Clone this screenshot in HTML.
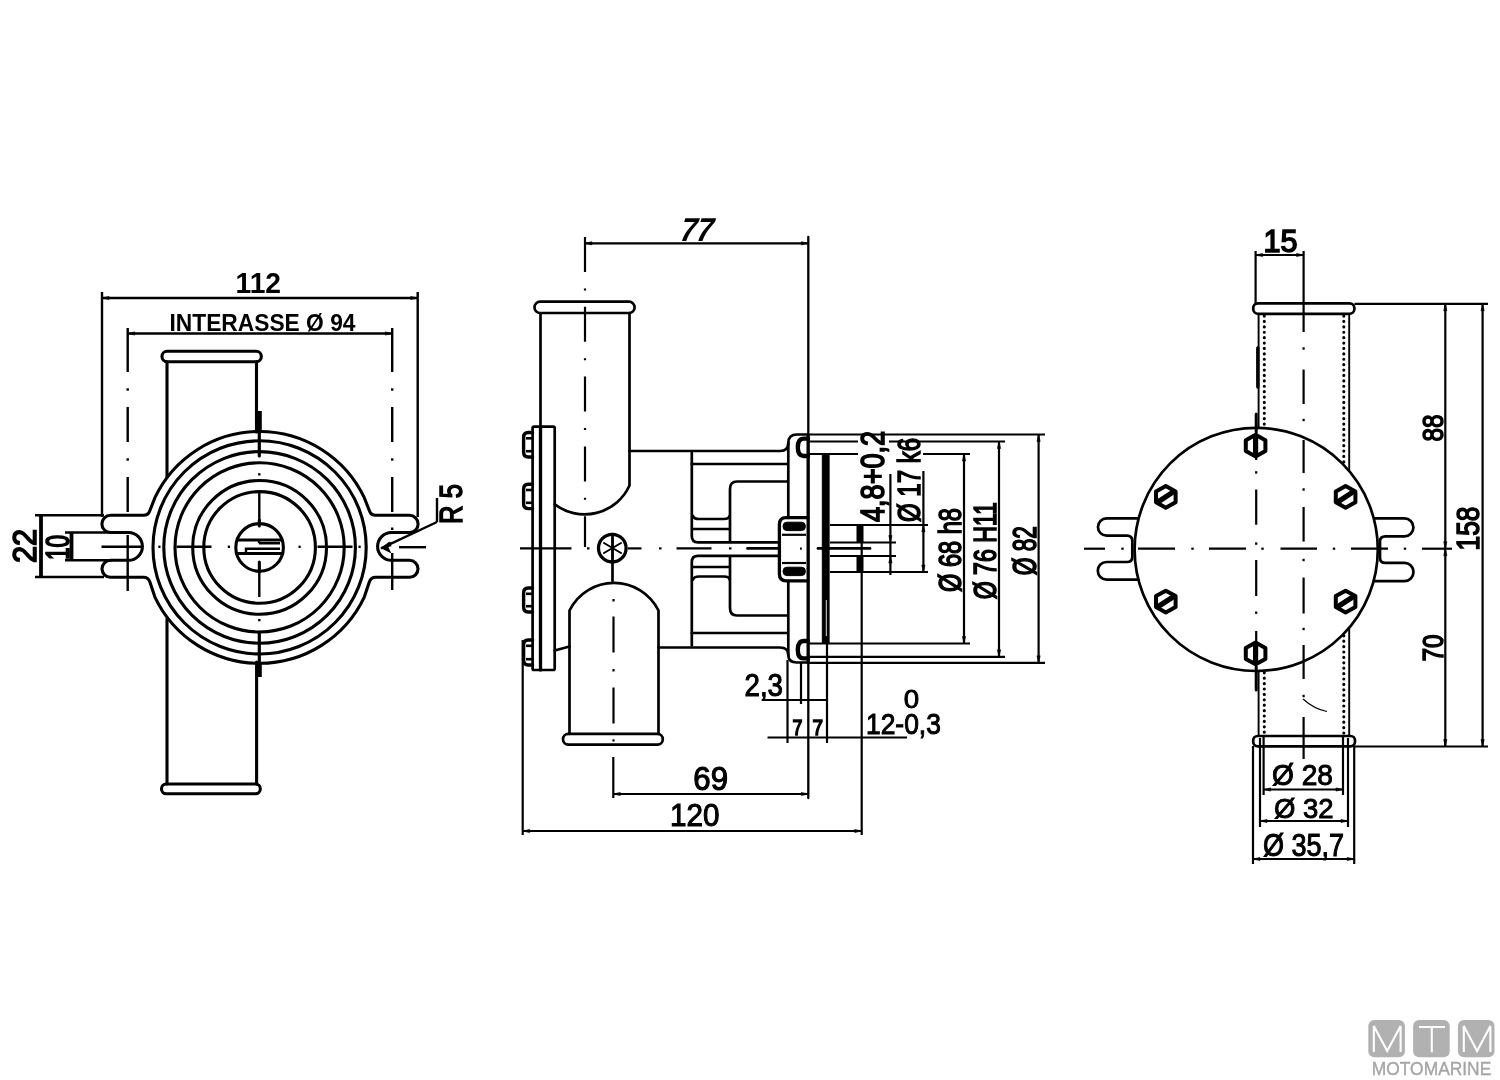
<!DOCTYPE html>
<html><head><meta charset="utf-8"><title>Pump dimensions</title>
<style>
html,body{margin:0;padding:0;background:#fff;}
body{width:1500px;height:1080px;overflow:hidden;font-family:"Liberation Sans",sans-serif;}
svg{display:block;position:absolute;left:0;top:0;will-change:transform;}
svg text{font-family:"Liberation Sans",sans-serif;}
.k{fill:none;stroke:#000;stroke-width:2.7;stroke-linecap:round;stroke-linejoin:round;}
.m{fill:none;stroke:#000;stroke-width:2.2;stroke-linecap:butt;}
.t{fill:none;stroke:#000;stroke-width:1.4;stroke-linecap:butt;}
.h{fill:none;stroke:#000;stroke-width:3.4;stroke-linecap:round;stroke-linejoin:round;}
.f{fill:#000;stroke:#000;stroke-width:1;}
#left-view .k{stroke-width:3.1;}
#left-view .m{stroke-width:2.4;}
#right-view .k{stroke-width:2.7;}
.cl{fill:none;stroke:#000;stroke-width:2.2;stroke-dasharray:35 16.4 2 16.4;}
</style></head><body>
<svg width="1500" height="1080" viewBox="0 0 1500 1080">
<rect x="0" y="0" width="1500" height="1080" fill="#fff"/>
<g id="left-view">
<circle class="k" cx="259.6" cy="547.4" r="106.6"/>
<circle class="k" cx="259.6" cy="547.4" r="95.8"/>
<circle class="k" cx="259.6" cy="547.4" r="84.6"/>
<circle class="k" cx="259.6" cy="547.4" r="66.9"/>
<circle class="k" cx="259.6" cy="547.4" r="55.8"/>
<circle class="k" cx="259.6" cy="547.4" r="23.8"/>
<path class="k" d="M364.3,497.7 A115.9,115.9 0 0 0 154.9,497.7 L149.9,510.5 Q148.3,515.3 143.6,515.3 L110.5,515.3 A8.6,8.6 0 0 0 110.5,532.5 L128.5,532.5 A13.9,13.9 0 0 1 128.5,560.3 L110.5,560.3 A8.5,8.5 0 0 0 110.5,577.3 L143.6,577.3 Q148.3,577.3 149.9,582.1 L154.9,597.1 A115.9,115.9 0 0 0 364.3,597.1 L369.3,582.1 Q370.9,577.3 375.6,577.3 L409.5,577.3 A8.5,8.5 0 0 0 409.5,560.3 L391.5,560.3 A13.9,13.9 0 0 1 391.5,532.5 L409.5,532.5 A8.6,8.6 0 0 0 409.5,515.3 L375.6,515.3 Q370.9,515.3 369.3,510.5 Z" />
<rect class="k" x="162" y="351.3" width="99.3" height="10.4" rx="5" />
<line class="k" x1="167" y1="361.7" x2="167" y2="477" />
<line class="k" x1="256.5" y1="361.7" x2="256.5" y2="432" />
<rect class="k" x="161.5" y="784" width="98.8" height="9.8" rx="4.8" />
<line class="k" x1="167" y1="619" x2="167" y2="784" />
<line class="k" x1="256.6" y1="662" x2="256.6" y2="784" />
<line class="k" x1="259.3" y1="411" x2="259.3" y2="431" style="stroke-width:5;stroke-linecap:butt"/>
<line class="k" x1="259.3" y1="430" x2="259.3" y2="456" style="stroke-width:3.2"/>
<line class="k" x1="259.3" y1="663" x2="259.3" y2="677" style="stroke-width:5;stroke-linecap:butt"/>
<line class="k" x1="259.3" y1="632" x2="259.3" y2="664" style="stroke-width:3.2"/>
<line class="m" x1="259.3" y1="492" x2="259.3" y2="523" />
<line class="k" x1="259.3" y1="520" x2="259.3" y2="526" style="stroke-width:3"/>
<line class="m" x1="259.3" y1="562" x2="259.3" y2="597" />
<line class="k" x1="259.3" y1="562" x2="259.3" y2="572" style="stroke-width:3"/>
<line class="m" x1="259.3" y1="473.2" x2="259.3" y2="475.5" />
<line class="m" x1="259.3" y1="619" x2="259.3" y2="621.3" />
<line class="k" x1="237.5" y1="540" x2="281.5" y2="540" />
<line class="k" x1="237" y1="553.5" x2="282" y2="553.5" />
<path class="m" d="M280,543.3 L259,543.3 M280,548.8 L246,548.8 L246,552.5 M259,540 L259,543.3" />
<line class="m" x1="176.5" y1="546.8" x2="211.5" y2="546.8" />
<line class="m" x1="317.5" y1="546.8" x2="352.5" y2="546.8" />
<line class="m" x1="158.3" y1="546.8" x2="160.5" y2="546.8" />
<line class="m" x1="227.8" y1="546.8" x2="230.0" y2="546.8" />
<line class="m" x1="298.5" y1="546.8" x2="300.7" y2="546.8" />
<line class="m" x1="358.5" y1="546.8" x2="360.7" y2="546.8" />
<line class="m" x1="101.5" y1="546.8" x2="141" y2="546.8" />
<line class="m" x1="399" y1="547.2" x2="426" y2="547.2" />
<line class="m" x1="102" y1="292" x2="102" y2="517" />
<line class="m" x1="417.7" y1="292" x2="417.7" y2="517" />
<line class="m" x1="102" y1="298" x2="417.7" y2="298" />
<polygon points="102,298 109,296.4 109,299.6" fill="#000" stroke="#000" stroke-width="0.6"/>
<polygon points="417.7,298 410.7,296.4 410.7,299.6" fill="#000" stroke="#000" stroke-width="0.6"/>
<text transform="translate(235.50,293.00) scale(0.2826,0.3000)" font-size="100" fill="#000" style="font-weight:bold;">112</text>
<line class="m" x1="127.8" y1="333.5" x2="392.3" y2="333.5" />
<polygon points="127.8,333.5 134.8,331.9 134.8,335.1" fill="#000" stroke="#000" stroke-width="0.6"/>
<polygon points="392.3,333.5 385.3,331.9 385.3,335.1" fill="#000" stroke="#000" stroke-width="0.6"/>
<text transform="translate(169.50,330.59) scale(0.2277,0.2416)" font-size="100" fill="#000" style="font-weight:bold;">INTERASSE Ø 94</text>
<line class="m" x1="127.7" y1="328" x2="127.7" y2="372" />
<line class="m" x1="127.7" y1="388.3" x2="127.7" y2="390.7" />
<line class="m" x1="127.7" y1="407" x2="127.7" y2="442" />
<line class="m" x1="127.7" y1="458.3" x2="127.7" y2="460.7" />
<line class="m" x1="127.7" y1="477" x2="127.7" y2="512" />
<line class="m" x1="392.2" y1="328" x2="392.2" y2="372" />
<line class="m" x1="392.2" y1="388.3" x2="392.2" y2="390.7" />
<line class="m" x1="392.2" y1="407" x2="392.2" y2="442" />
<line class="m" x1="392.2" y1="458.3" x2="392.2" y2="460.7" />
<line class="m" x1="392.2" y1="477" x2="392.2" y2="512" />
<line class="m" x1="127.7" y1="535" x2="127.7" y2="591" />
<line class="m" x1="392.2" y1="553" x2="392.2" y2="590" />
<line class="m" x1="392.2" y1="527.5" x2="392.2" y2="530" />
<line class="m" x1="35" y1="515.3" x2="104" y2="515.3" />
<line class="m" x1="35" y1="577.0" x2="104" y2="577.0" />
<line class="k" x1="41" y1="515.3" x2="41" y2="577" style="stroke-width:3.8;stroke-linecap:butt"/>
<line class="m" x1="65" y1="532.5" x2="112" y2="532.5" />
<line class="m" x1="65" y1="560.3" x2="112" y2="560.3" />
<line class="k" x1="71.5" y1="532.5" x2="71.5" y2="560.3" style="stroke-width:3.8;stroke-linecap:butt"/>
<text transform="translate(36.00,563.00) rotate(-90) scale(0.3063,0.3286)" font-size="100" fill="#000" stroke="#000" stroke-width="5" style="">22</text>
<text transform="translate(69.47,560.00) rotate(-90) scale(0.2252,0.3282)" font-size="100" fill="#000" stroke="#000" stroke-width="5" style="">10</text>
<line class="m" x1="381" y1="548.3" x2="437" y2="522" />
<line class="m" x1="437" y1="522" x2="437" y2="498" />
<polygon points="380.5,548.5 391.6,546.2 389.4,541.5" fill="#000"/>
<polygon points="380.5,548 391.5,541.5 388.5,547.5 391.5,553.5" fill="#000"/>
<text transform="translate(461.69,524.00) rotate(-90) scale(0.2564,0.3143)" font-size="100" fill="#000" stroke="#000" stroke-width="5" style="">R 5</text>
</g>
<g id="mid-view">
<rect class="k" x="532.6" y="426.6" width="22.1" height="243.4" rx="1.5" />
<line class="k" x1="540.5" y1="314" x2="540.5" y2="427" />
<line class="k" x1="540.5" y1="427" x2="540.5" y2="670" style="stroke-width:3.3"/>
<path class="h" d="M532.6,432.5 L528.2,432.5 Q523.6,432.5 523.6,437.5 L523.6,452 Q523.6,457 528.2,457 L532.6,457" style="stroke-width:3.4"/>
<line class="k" x1="526" y1="438.3" x2="532.6" y2="438.3" style="stroke-width:2.6;stroke-linecap:butt"/>
<line class="k" x1="526" y1="451.2" x2="532.6" y2="451.2" style="stroke-width:2.6;stroke-linecap:butt"/>
<path class="h" d="M532.6,484.2 L528.2,484.2 Q523.6,484.2 523.6,489.2 L523.6,503.6 Q523.6,508.6 528.2,508.6 L532.6,508.6" style="stroke-width:3.4"/>
<line class="k" x1="526" y1="490.0" x2="532.6" y2="490.0" style="stroke-width:2.6;stroke-linecap:butt"/>
<line class="k" x1="526" y1="502.8" x2="532.6" y2="502.8" style="stroke-width:2.6;stroke-linecap:butt"/>
<path class="h" d="M532.6,588 L528.2,588 Q523.6,588 523.6,593 L523.6,607 Q523.6,612 528.2,612 L532.6,612" style="stroke-width:3.4"/>
<line class="k" x1="526" y1="593.8" x2="532.6" y2="593.8" style="stroke-width:2.6;stroke-linecap:butt"/>
<line class="k" x1="526" y1="606.2" x2="532.6" y2="606.2" style="stroke-width:2.6;stroke-linecap:butt"/>
<path class="h" d="M532.6,640 L528.2,640 Q523.6,640 523.6,645 L523.6,660 Q523.6,665 528.2,665 L532.6,665" style="stroke-width:3.4"/>
<line class="k" x1="526" y1="645.8" x2="532.6" y2="645.8" style="stroke-width:2.6;stroke-linecap:butt"/>
<line class="k" x1="526" y1="659.2" x2="532.6" y2="659.2" style="stroke-width:2.6;stroke-linecap:butt"/>
<rect class="k" x="534.5" y="301.7" width="100.1" height="11.3" rx="5.6" />
<path class="k" d="M629.5,313 L629.5,485.5 A49.3,49.3 0 0 1 554.7,504.3" />
<rect class="k" x="563" y="733.9" width="99.8" height="10.7" rx="5.3" />
<path class="k" d="M569.5,733.9 L569.5,610.5 A49.6,49.6 0 0 1 658.5,610.5 L658.5,733.9" />
<path class="k" d="M629.5,451 L780,451 Q788.3,451 788.3,443 Q788.3,434.5 797,434.5 L808,434.5" />
<path class="k" d="M658.5,647.5 L780,647.5 Q788.3,647.5 788.3,655 Q788.3,662.5 797,662.5 L808,662.5" />
<path class="k" d="M554.7,650.5 L569.5,646.5" />
<line class="k" x1="788.3" y1="443" x2="788.3" y2="518" />
<line class="k" x1="788.3" y1="581" x2="788.3" y2="655" />
<path class="h" d="M808,438.6 L803.5,438.6 Q797.8,438.6 797.8,447.3 Q797.8,456 803.5,456 L808,456" style="stroke-width:4.4"/>
<path class="h" d="M808,641 L803.5,641 Q797.8,641 797.8,649.7 Q797.8,658.4 803.5,658.4 L808,658.4" style="stroke-width:4.4"/>
<path class="k" d="M691.8,453 L691.8,536 Q691.8,542.3 698,542.3 L779,542.3" />
<path class="k" d="M691.8,645.5 L691.8,562 Q691.8,555.9 698,555.9 L779,555.9" />
<line class="k" x1="691.8" y1="464" x2="787.5" y2="464" />
<line class="k" x1="691.8" y1="633" x2="787.5" y2="633" />
<path class="k" d="M787.5,481.5 L737,481.5 Q730,481.5 730,489 L730,541" />
<path class="k" d="M787.5,615.5 L737,615.5 Q730,615.5 730,608 L730,557" />
<path class="k" d="M693,516 Q694,519 699,519 L724,519 Q729,519 729.5,516" />
<line class="k" x1="693" y1="529" x2="729.5" y2="529" />
<path class="k" d="M693,579.5 Q694,576.5 699,576.5 L724,576.5 Q729,576.5 729.5,579.5" />
<line class="k" x1="693" y1="567" x2="729.5" y2="567" />
<path class="k" d="M808,517.6 L786,517.6 Q779.4,517.6 779.4,524.5 L779.4,574 Q779.4,580.8 786,580.8 L808,580.8" style="stroke-width:3.3"/>
<rect class="f" x="783" y="522.2" width="22.4" height="8.4" rx="4" />
<rect class="f" x="783" y="567.2" width="22.4" height="8.4" rx="4" />
<line class="m" x1="782" y1="534.8" x2="806" y2="534.8" style="stroke-width:2.2"/>
<line class="m" x1="782" y1="563.0" x2="806" y2="563.0" style="stroke-width:2.2"/>
<line class="m" x1="800.0" y1="548.6" x2="801.8" y2="548.6" />
<line class="k" x1="808.3" y1="237" x2="808.3" y2="798" style="stroke-width:2.3"/>
<rect class="f" x="822.3" y="454" width="6.8" height="189" rx="0" />
<line class="k" x1="808.1" y1="434.5" x2="808.1" y2="662.8" style="stroke-width:3.2"/>
<line class="m" x1="826.3" y1="600" x2="826.3" y2="636" style="stroke:#ddd;stroke-width:1"/>
<line class="m" x1="830" y1="525" x2="928" y2="525" />
<line class="m" x1="830" y1="572" x2="928" y2="572" />
<line class="m" x1="830" y1="542.5" x2="896" y2="542.5" />
<line class="m" x1="830" y1="556" x2="896" y2="556" />
<rect class="f" x="857" y="525" width="6" height="17.5" rx="0" />
<rect class="f" x="857" y="556" width="6" height="16" rx="0" />
<line class="k" x1="818" y1="548.4" x2="870" y2="548.4" style="stroke-width:2.8"/>
<line class="k" x1="747.5" y1="548.4" x2="777.5" y2="548.4" style="stroke-width:2.8"/>
<line class="m" x1="520" y1="548.4" x2="571.5" y2="548.4" />
<line class="m" x1="587" y1="548.4" x2="589.5" y2="548.4" />
<line class="m" x1="628" y1="548.4" x2="641.5" y2="548.4" />
<line class="m" x1="659" y1="548.4" x2="661.5" y2="548.4" />
<line class="m" x1="676.5" y1="548.4" x2="711.5" y2="548.4" />
<line class="m" x1="729" y1="548.4" x2="731.5" y2="548.4" />
<circle class="k" style="stroke-width:3.3" cx="612.3" cy="548.2" r="13.8"/>
<path class="k" d="M612.5,538 L612.5,558 M604,543 L621,553 M604,553 L621,543" style="stroke-width:2"/>
<line class="k" x1="612.5" y1="534" x2="612.5" y2="581" />
<line class="cl" x1="585" y1="237" x2="585" y2="547" />
<line class="m" x1="613.5" y1="599" x2="613.5" y2="601.5" />
<line class="m" x1="613.5" y1="616.5" x2="613.5" y2="652.5" />
<line class="m" x1="613.5" y1="669" x2="613.5" y2="671.5" />
<line class="m" x1="613.5" y1="687.5" x2="613.5" y2="723.5" />
<line class="m" x1="613.5" y1="739.3" x2="613.5" y2="741.5" />
<line class="m" x1="613.3" y1="757" x2="613.3" y2="798" />
<line class="m" x1="585" y1="243.3" x2="808.3" y2="243.3" />
<polygon points="585,243.3 592,241.70000000000002 592,244.9" fill="#000" stroke="#000" stroke-width="0.6"/>
<polygon points="808.3,243.3 801.3,241.70000000000002 801.3,244.9" fill="#000" stroke="#000" stroke-width="0.6"/>
<text transform="translate(679.50,241.20) scale(0.2905,0.3319) skewX(-9)" font-size="100" fill="#000" style="font-style:italic;font-weight:bold;">77</text>
<line class="m" x1="613.3" y1="794" x2="808.3" y2="794" />
<polygon points="613.3,794 620.3,792.4 620.3,795.6" fill="#000" stroke="#000" stroke-width="0.6"/>
<polygon points="808.3,794 801.3,792.4 801.3,795.6" fill="#000" stroke="#000" stroke-width="0.6"/>
<text transform="translate(693.30,789.68) scale(0.3126,0.3239)" font-size="100" fill="#000" stroke="#000" stroke-width="3.4" style="">69</text>
<line class="m" x1="522.7" y1="640" x2="522.7" y2="835" />
<line class="m" x1="861.7" y1="527" x2="861.7" y2="835" />
<line class="m" x1="522.7" y1="831" x2="861.7" y2="831" />
<polygon points="522.7,831 529.7,829.4 529.7,832.6" fill="#000" stroke="#000" stroke-width="0.6"/>
<polygon points="861.7,831 854.7,829.4 854.7,832.6" fill="#000" stroke="#000" stroke-width="0.6"/>
<text transform="translate(670.00,825.89) scale(0.2964,0.3099)" font-size="100" fill="#000" stroke="#000" stroke-width="3.4" style="">120</text>
<line class="m" x1="787.5" y1="660" x2="787.5" y2="743" />
<line class="m" x1="827" y1="643" x2="827" y2="743" />
<line class="m" x1="801" y1="662" x2="801" y2="704" />
<line class="m" x1="761.7" y1="700" x2="826" y2="700" />
<line class="m" x1="767.5" y1="737.5" x2="907" y2="737.5" />
<text transform="translate(744.50,695.77) scale(0.2770,0.3110)" font-size="100" fill="#000" stroke="#000" stroke-width="3.4" style="">2,3</text>
<text transform="translate(792.50,734.50) scale(0.1786,0.2174)" font-size="100" fill="#000" stroke="#000" stroke-width="7" style="">7</text>
<text transform="translate(812.40,734.50) scale(0.1893,0.2174)" font-size="100" fill="#000" stroke="#000" stroke-width="7" style="">7</text>
<text transform="translate(866.00,733.74) scale(0.2641,0.2963)" font-size="100" fill="#000" stroke="#000" stroke-width="3.4" style="">12-0,3</text>
<text transform="translate(903.80,707.94) scale(0.2768,0.2592)" font-size="100" fill="#000" stroke="#000" stroke-width="3.4" style="">0</text>
<line class="m" x1="808.3" y1="434.5" x2="1045" y2="434.5" />
<line class="m" x1="808.3" y1="662.8" x2="1045" y2="662.8" />
<line class="m" x1="1038.6" y1="434.5" x2="1038.6" y2="662.8" />
<polygon points="1038.6,434.5 1037.0,441.5 1040.1999999999998,441.5" fill="#000" stroke="#000" stroke-width="0.6"/>
<polygon points="1038.6,662.8 1037.0,655.8 1040.1999999999998,655.8" fill="#000" stroke="#000" stroke-width="0.6"/>
<line class="m" x1="808.3" y1="441.5" x2="858" y2="441.5" />
<line class="m" x1="889" y1="441.5" x2="1005" y2="441.5" />
<line class="m" x1="808.3" y1="656.8" x2="1005" y2="656.8" />
<line class="m" x1="999" y1="441.5" x2="999" y2="656.8" />
<polygon points="999,441.5 997.4,448.5 1000.6,448.5" fill="#000" stroke="#000" stroke-width="0.6"/>
<polygon points="999,656.8 997.4,649.8 1000.6,649.8" fill="#000" stroke="#000" stroke-width="0.6"/>
<line class="m" x1="808.3" y1="454" x2="858" y2="454" />
<line class="m" x1="923" y1="454" x2="970" y2="454" />
<line class="m" x1="808.3" y1="643.5" x2="970" y2="643.5" />
<line class="m" x1="964" y1="454" x2="964" y2="643.5" />
<polygon points="964,454 962.4,461 965.6,461" fill="#000" stroke="#000" stroke-width="0.6"/>
<polygon points="964,643.5 962.4,636.5 965.6,636.5" fill="#000" stroke="#000" stroke-width="0.6"/>
<line class="m" x1="923.4" y1="471" x2="923.4" y2="573" />
<polygon points="923.4,525 921.8,532 925.0,532" fill="#000" stroke="#000" stroke-width="0.6"/>
<polygon points="923.4,572 921.8,565 925.0,565" fill="#000" stroke="#000" stroke-width="0.6"/>
<line class="m" x1="890.4" y1="474" x2="890.4" y2="575" />
<polygon points="890.4,542.5 888.8,535.5 892.0,535.5" fill="#000" stroke="#000" stroke-width="0.6"/>
<polygon points="890.4,556 888.8,563 892.0,563" fill="#000" stroke="#000" stroke-width="0.6"/>
<text transform="translate(883.98,522.00) rotate(-90) scale(0.2708,0.3354)" font-size="100" fill="#000" stroke="#000" stroke-width="5" style="">4,8+0,2</text>
<text transform="translate(919.67,522.00) rotate(-90) scale(0.2400,0.3107)" font-size="100" fill="#000" stroke="#000" stroke-width="5" style="">Ø 17 k6</text>
<text transform="translate(960.64,592.00) rotate(-90) scale(0.2360,0.3213)" font-size="100" fill="#000" stroke="#000" stroke-width="5" style="">Ø 68 h8</text>
<text transform="translate(995.54,599.30) rotate(-90) scale(0.2311,0.3213)" font-size="100" fill="#000" stroke="#000" stroke-width="5" style="">Ø 76 H11</text>
<text transform="translate(1036.42,575.30) rotate(-90) scale(0.2272,0.3280)" font-size="100" fill="#000" stroke="#000" stroke-width="5" style="">Ø 82</text>
</g>
<g id="right-view">
<rect class="k" x="1253.2" y="303.4" width="101.2" height="10.4" rx="4.8" />
<rect class="k" x="1253.2" y="736" width="101.8" height="10.3" rx="4.5" />
<line class="m" x1="1258.6" y1="313.5" x2="1258.6" y2="427.82368651747987" style="stroke-width:1.9"/>
<line class="m" x1="1258.6" y1="670.97631348252" x2="1258.6" y2="736" style="stroke-width:1.9"/>
<line class="m" x1="1264.3" y1="316" x2="1264.3" y2="428.0700778867801" style="stroke-dasharray:0.1 5.3;stroke-width:3.1;stroke-linecap:round"/>
<line class="m" x1="1264.3" y1="672.7299221132198" x2="1264.3" y2="736" style="stroke-dasharray:0.1 5.3;stroke-width:3.1;stroke-linecap:round"/>
<line class="m" x1="1343.8" y1="316" x2="1343.8" y2="465.0625824440894" style="stroke-dasharray:0.1 5.3;stroke-width:3.1;stroke-linecap:round"/>
<line class="m" x1="1343.8" y1="635.7374175559106" x2="1343.8" y2="736" style="stroke-dasharray:0.1 5.3;stroke-width:3.1;stroke-linecap:round"/>
<line class="m" x1="1349.2" y1="313.5" x2="1349.2" y2="471.0574189855861" style="stroke-width:1.9"/>
<line class="m" x1="1349.2" y1="627.7425810144139" x2="1349.2" y2="736" style="stroke-width:1.9"/>
<line class="k" x1="1257.8" y1="348" x2="1257.8" y2="387" style="stroke-width:3.4"/>
<circle class="k" cx="1256.2" cy="549.4" r="121.6"/>
<path class="k" d="M1137.0,518.4 L1106.6,518.4 A8.65,8.65 0 0 0 1106.6,535.7 L1127,535.7 Q1132.3,535.7 1132.3,541 L1132.3,556.7 Q1132.3,562 1127,562 L1106.6,562 A8.8,8.8 0 0 0 1106.6,579.6 L1138.0,579.6" />
<path class="k" d="M1375.5,518.4 L1404.4,518.4 A9,9 0 0 1 1404.4,536.4 L1385.5,536.4 Q1380.0,536.4 1380.0,541.5 L1380.0,557.7 Q1380.0,562.9 1385.5,562.9 L1404.4,562.9 A9.1,9.1 0 0 1 1404.4,581.1 L1374.5,581.1" />
<polygon class="h" style="stroke-width:4;fill:#fff" points="1255.6,434.7 1265.4,440.2 1265.4,451.1 1255.6,456.5 1245.8,451.1 1245.8,440.2"/>
<line x1="1255.6" y1="438.4" x2="1255.6" y2="452.8" stroke="#000" stroke-width="5.2" stroke-linecap="round"/>
<polygon class="h" style="stroke-width:4;fill:#fff" points="1255.6,642.5 1265.4,647.9 1265.4,658.9 1255.6,664.3 1245.8,658.9 1245.8,647.9"/>
<line x1="1255.6" y1="646.2" x2="1255.6" y2="660.6" stroke="#000" stroke-width="5.2" stroke-linecap="round"/>
<polygon class="h" style="stroke-width:4;fill:#fff" points="1165.8,485.9 1175.6,491.4 1175.6,502.2 1165.8,507.7 1156.0,502.2 1156.0,491.4"/>
<line x1="1159.8" y1="500.7" x2="1171.8" y2="492.9" stroke="#000" stroke-width="5.2" stroke-linecap="round"/>
<polygon class="h" style="stroke-width:4;fill:#fff" points="1345.6,485.9 1355.4,491.4 1355.4,502.2 1345.6,507.7 1335.8,502.2 1335.8,491.4"/>
<line x1="1339.6" y1="500.7" x2="1351.6" y2="492.9" stroke="#000" stroke-width="5.2" stroke-linecap="round"/>
<polygon class="h" style="stroke-width:4;fill:#fff" points="1165.8,590.7 1175.6,596.1 1175.6,607.1 1165.8,612.5 1156.0,607.1 1156.0,596.1"/>
<line x1="1159.8" y1="605.5" x2="1171.8" y2="597.7" stroke="#000" stroke-width="5.2" stroke-linecap="round"/>
<polygon class="h" style="stroke-width:4;fill:#fff" points="1345.6,590.7 1355.4,596.1 1355.4,607.1 1345.6,612.5 1335.8,607.1 1335.8,596.1"/>
<line x1="1339.6" y1="605.5" x2="1351.6" y2="597.7" stroke="#000" stroke-width="5.2" stroke-linecap="round"/>
<line class="m" x1="1084" y1="548.7" x2="1105" y2="548.7" />
<line class="m" x1="1138" y1="548.7" x2="1175" y2="548.7" />
<line class="m" x1="1209" y1="548.7" x2="1246" y2="548.7" />
<line class="m" x1="1280.5" y1="548.7" x2="1317" y2="548.7" />
<line class="m" x1="1351" y1="548.7" x2="1388" y2="548.7" />
<line class="m" x1="1422" y1="548.7" x2="1452" y2="548.7" />
<line class="m" x1="1121.3" y1="548.7" x2="1123.7" y2="548.7" />
<line class="m" x1="1191.3" y1="548.7" x2="1193.7" y2="548.7" />
<line class="m" x1="1261.3" y1="548.7" x2="1263.7" y2="548.7" />
<line class="m" x1="1332.8" y1="548.7" x2="1335.2" y2="548.7" />
<line class="m" x1="1403.8" y1="548.7" x2="1406.2" y2="548.7" />
<line class="m" x1="1256.2" y1="432" x2="1256.2" y2="460" />
<line class="m" x1="1256.2" y1="489.5" x2="1256.2" y2="524.7" />
<line class="m" x1="1256.2" y1="560" x2="1256.2" y2="596" />
<line class="m" x1="1256.2" y1="631" x2="1256.2" y2="667" />
<line class="m" x1="1256.2" y1="471.2" x2="1256.2" y2="473.59999999999997" />
<line class="m" x1="1256.2" y1="542.4" x2="1256.2" y2="544.8000000000001" />
<line class="m" x1="1256.2" y1="611.5" x2="1256.2" y2="613.9000000000001" />
<line class="k" x1="1256.2" y1="667" x2="1256.2" y2="690" style="stroke-width:3"/>
<line class="k" x1="1256.2" y1="414" x2="1256.2" y2="432" style="stroke-width:3"/>
<line class="m" x1="1303.6" y1="251" x2="1303.6" y2="332" />
<line class="m" x1="1303.6" y1="369.5" x2="1303.6" y2="404" />
<line class="m" x1="1303.6" y1="440" x2="1303.6" y2="473" />
<line class="m" x1="1303.6" y1="507" x2="1303.6" y2="541.6" />
<line class="m" x1="1303.6" y1="577.5" x2="1303.6" y2="613.5" />
<line class="m" x1="1303.6" y1="645" x2="1303.6" y2="679" />
<line class="m" x1="1303.6" y1="717" x2="1303.6" y2="759" />
<line class="m" x1="1303.6" y1="347.3" x2="1303.6" y2="349.7" />
<line class="m" x1="1303.6" y1="418.8" x2="1303.6" y2="421.2" />
<line class="m" x1="1303.6" y1="488.3" x2="1303.6" y2="490.7" />
<line class="m" x1="1303.6" y1="558.8" x2="1303.6" y2="561.2" />
<line class="m" x1="1303.6" y1="627.8" x2="1303.6" y2="630.2" />
<line class="m" x1="1303.6" y1="694.8" x2="1303.6" y2="697.2" />
<path class="t" d="M1303,699 Q1314,709 1327,711.5" style="stroke-width:1.1"/>
<line class="m" x1="1255.6" y1="251" x2="1255.6" y2="304" />
<line class="m" x1="1255.6" y1="255" x2="1303.6" y2="255" />
<polygon points="1255.6,255 1262.6,253.4 1262.6,256.6" fill="#000" stroke="#000" stroke-width="0.6"/>
<polygon points="1303.6,255 1296.6,253.4 1296.6,256.6" fill="#000" stroke="#000" stroke-width="0.6"/>
<text transform="translate(1263.50,251.69) scale(0.3063,0.3071)" font-size="100" fill="#000" stroke="#000" stroke-width="5" style="">15</text>
<line class="m" x1="1354.5" y1="303.8" x2="1488" y2="303.8" />
<line class="m" x1="1355" y1="746.5" x2="1488" y2="746.5" />
<line class="m" x1="1445.3" y1="303.8" x2="1445.3" y2="746.5" />
<polygon points="1445.3,303.8 1443.7,310.8 1446.8999999999999,310.8" fill="#000" stroke="#000" stroke-width="0.6"/>
<polygon points="1445.3,548.7 1443.7,541.7 1446.8999999999999,541.7" fill="#000" stroke="#000" stroke-width="0.6"/>
<polygon points="1445.3,548.7 1443.7,555.7 1446.8999999999999,555.7" fill="#000" stroke="#000" stroke-width="0.6"/>
<polygon points="1445.3,746.5 1443.7,739.5 1446.8999999999999,739.5" fill="#000" stroke="#000" stroke-width="0.6"/>
<line class="m" x1="1482.6" y1="303.8" x2="1482.6" y2="746.5" />
<polygon points="1482.6,303.8 1481.0,310.8 1484.1999999999998,310.8" fill="#000" stroke="#000" stroke-width="0.6"/>
<polygon points="1482.6,746.5 1481.0,739.5 1484.1999999999998,739.5" fill="#000" stroke="#000" stroke-width="0.6"/>
<text transform="translate(1442.70,441.50) rotate(-90) scale(0.2432,0.2958)" font-size="100" fill="#000" stroke="#000" stroke-width="5" style="">88</text>
<text transform="translate(1442.70,661.50) rotate(-90) scale(0.2432,0.2958)" font-size="100" fill="#000" stroke="#000" stroke-width="5" style="">70</text>
<text transform="translate(1479.39,550.40) rotate(-90) scale(0.2629,0.3056)" font-size="100" fill="#000" stroke="#000" stroke-width="5" style="">158</text>
<line class="m" x1="1263.6" y1="736" x2="1263.6" y2="795" />
<line class="m" x1="1343" y1="736" x2="1343" y2="795" />
<line class="m" x1="1263.6" y1="789.5" x2="1343" y2="789.5" />
<polygon points="1263.6,789.5 1270.6,787.9 1270.6,791.1" fill="#000" stroke="#000" stroke-width="0.6"/>
<polygon points="1343,789.5 1336,787.9 1336,791.1" fill="#000" stroke="#000" stroke-width="0.6"/>
<text transform="translate(1272.00,784.70) scale(0.2811,0.3013)" font-size="100" fill="#000" stroke="#000" stroke-width="3.4" style="">Ø 28</text>
<line class="m" x1="1260" y1="738" x2="1260" y2="827" />
<line class="m" x1="1348" y1="738" x2="1348" y2="827" />
<line class="m" x1="1260" y1="821" x2="1348" y2="821" />
<polygon points="1260,821 1267,819.4 1267,822.6" fill="#000" stroke="#000" stroke-width="0.6"/>
<polygon points="1348,821 1341,819.4 1341,822.6" fill="#000" stroke="#000" stroke-width="0.6"/>
<text transform="translate(1274.00,818.16) scale(0.2747,0.2800)" font-size="100" fill="#000" stroke="#000" stroke-width="3.4" style="">Ø 32</text>
<line class="m" x1="1253" y1="746" x2="1253" y2="864" />
<line class="m" x1="1354.2" y1="746" x2="1354.2" y2="864" />
<line class="m" x1="1253" y1="859" x2="1354.2" y2="859" />
<polygon points="1253,859 1260,857.4 1260,860.6" fill="#000" stroke="#000" stroke-width="0.6"/>
<polygon points="1354.2,859 1347.2,857.4 1347.2,860.6" fill="#000" stroke="#000" stroke-width="0.6"/>
<text transform="translate(1263.00,855.71) scale(0.2700,0.3155)" font-size="100" fill="#000" stroke="#000" stroke-width="3.4" style="">Ø 35,7</text>
</g>
<g id="logo">
<rect x="1368.3" y="1020" width="36.6" height="37.3" rx="6" fill="#b1b1b1"/>
<rect x="1413.1" y="1020" width="36.6" height="37.3" rx="6" fill="#b1b1b1"/>
<rect x="1457.9" y="1020" width="36.6" height="37.3" rx="6" fill="#b1b1b1"/>
<path d="M1373.8,1052 L1373.8,1026 L1387.2,1051 L1400.6,1026 L1400.6,1052" fill="none" stroke="#fff" stroke-width="2.1" stroke-linejoin="miter"/>
<path d="M1419,1027 L1445,1027 M1431.8,1027 L1431.8,1052.3" fill="none" stroke="#fff" stroke-width="2.1" stroke-linejoin="miter"/>
<path d="M1463.8,1052 L1463.8,1026 L1477.1,1051 L1490.4,1026 L1490.4,1052" fill="none" stroke="#fff" stroke-width="2.1" stroke-linejoin="miter"/>
<text transform="translate(1371.80,1074.81) scale(0.1739,0.1859)" font-size="100" fill="#a6a6a6" stroke="#a6a6a6" stroke-width="2.2" style="">MOTOMARINE</text>
</g>
</svg>
</body></html>
